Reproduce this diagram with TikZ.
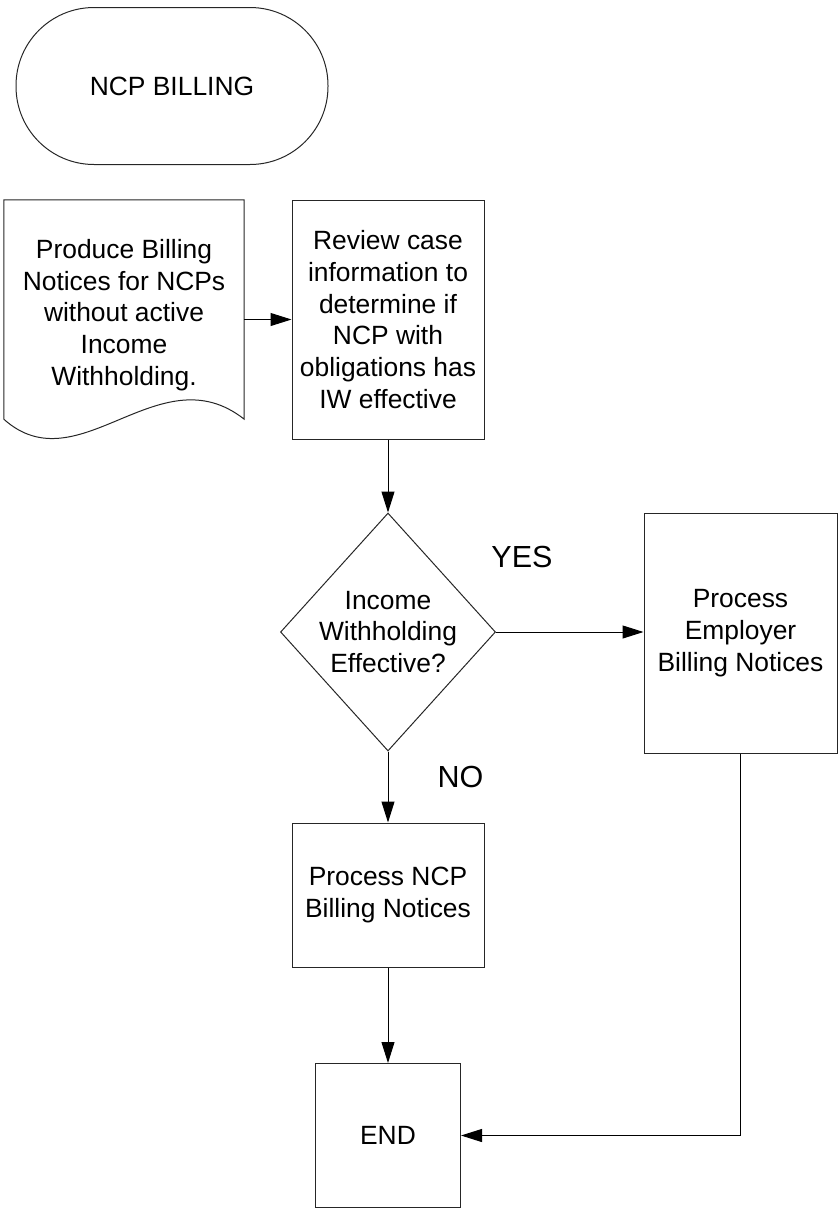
\documentclass[tikz,border=0pt]{standalone}
\usepackage{fontspec}
\setmainfont{Liberation Sans}
\usetikzlibrary{arrows.meta,shapes.geometric}
\begin{document}
\begin{tikzpicture}[x=1pt,y=-1pt,
  every node/.style={font=\fontsize{26.4}{31.7}\selectfont, align=center},
  shapeline/.style={draw=black!85, line width=1pt},
  procbox/.style={shapeline, rectangle, inner sep=0pt},
  flow/.style={draw=black, line width=1pt, -{Triangle[length=21pt,width=13pt]}},
  answer/.style={font=\fontsize{30.5}{36}\selectfont}
]
\useasboundingbox (0,0) rectangle (838,1208);

% terminal
\node[shapeline, rectangle, rounded corners=78pt, minimum width=312pt, minimum height=157pt, inner sep=0pt] (start) at (172,86) {NCP BILLING};

% document shape
\node[minimum width=240pt, minimum height=219pt, inner sep=0pt,
  label={[yshift=-5.5pt]center:Produce Billing\\Notices for NCPs\\without active\\Income\\Withholding.}] (doc) at (124,309.5) {};
\draw[shapeline] (doc.south west) -- (doc.north west) -- (doc.north east) -- (doc.south east)
  .. controls ([xshift=-85pt,yshift=67pt]doc.south east) and ([xshift=75pt,yshift=-67pt]doc.south west) .. (doc.south west);

% review
\node[procbox, minimum width=192pt, minimum height=239pt] (review) at (388,319.5)
  {Review case\\information to\\determine if\\NCP with\\obligations has\\IW effective};

% decision
\node[shapeline, diamond, inner sep=0pt, minimum width=215pt, minimum height=238pt,
  label={center:Income\\Withholding\\Effective?}] (dec) at (388,632) {};

% employer
\node[procbox, minimum width=193pt, minimum height=240pt] (emp) at (740.5,633)
  {Process\\Employer\\Billing Notices};

% NCP billing
\node[procbox, minimum width=192pt, minimum height=144pt] (ncp) at (388,895)
  {Process NCP\\Billing Notices};

% end
\node[procbox, minimum width=145pt, minimum height=144pt] (end) at (388,1135.5) {END};

% labels
\node[answer] (yes) at (522,557) {YES};
\node[answer] (no) at (460.5,777) {NO};

% connectors
\draw[flow] (doc.east |- review.west) -- (review.west);
\draw[flow] (review.south) -- (dec.north);
\draw[flow] (dec.east) -- (dec.east -| emp.west);
\draw[flow] (dec.south) -- (ncp.north);
\draw[flow] (ncp.south) -- (end.north);
\draw[flow] (emp.south) |- (end.east);
\end{tikzpicture}
\end{document}
